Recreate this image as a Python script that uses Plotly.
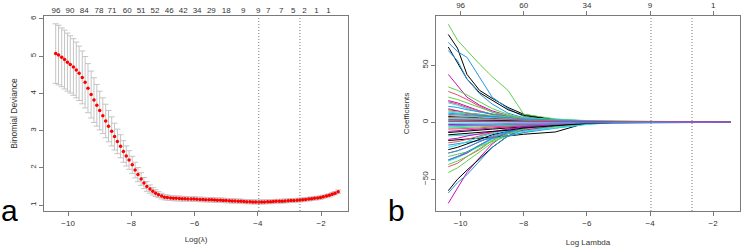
import plotly.graph_objects as go

# ---------------- Panel a: cross-validated binomial deviance ----------------
log_lambda = [-10.39, -10.30, -10.20, -10.11, -10.02, -9.93, -9.83, -9.74, -9.65, -9.55,
              -9.46, -9.37, -9.27, -9.18, -9.09, -9.00, -8.90, -8.81, -8.72, -8.62,
              -8.53, -8.44, -8.34, -8.25, -8.16, -8.07, -7.97, -7.88, -7.79, -7.69,
              -7.60, -7.51, -7.41, -7.32, -7.23, -7.14, -7.04, -6.95, -6.86, -6.76,
              -6.67, -6.58, -6.48, -6.39, -6.30, -6.21, -6.11, -6.02, -5.93, -5.83,
              -5.74, -5.65, -5.55, -5.46, -5.37, -5.28, -5.18, -5.09, -5.00, -4.90,
              -4.81, -4.72, -4.62, -4.53, -4.44, -4.35, -4.25, -4.16, -4.07, -3.97,
              -3.88, -3.79, -3.69, -3.60, -3.51, -3.42, -3.32, -3.23, -3.14, -3.04,
              -2.95, -2.86, -2.76, -2.67, -2.58, -2.49, -2.39, -2.30, -2.21, -2.11,
              -2.02, -1.93, -1.83, -1.74, -1.65, -1.56, -1.46]

cv_mean = [5.07, 5.03, 4.97, 4.91, 4.84, 4.78, 4.71, 4.63, 4.54, 4.43,
           4.30, 4.14, 3.97, 3.82, 3.68, 3.54, 3.40, 3.26, 3.12, 2.98,
           2.84, 2.71, 2.58, 2.44, 2.32, 2.21, 2.08, 1.94, 1.82, 1.70,
           1.59, 1.50, 1.43, 1.37, 1.32, 1.28, 1.24, 1.21, 1.20, 1.19,
           1.18, 1.18, 1.175, 1.17, 1.17, 1.165, 1.16, 1.16, 1.155, 1.15,
           1.15, 1.145, 1.14, 1.14, 1.135, 1.13, 1.13, 1.125, 1.12, 1.115,
           1.11, 1.11, 1.105, 1.10, 1.095, 1.09, 1.09, 1.085, 1.085, 1.08,
           1.085, 1.085, 1.09, 1.09, 1.095, 1.10, 1.10, 1.105, 1.11, 1.115,
           1.12, 1.125, 1.13, 1.135, 1.14, 1.15, 1.16, 1.17, 1.18, 1.19,
           1.20, 1.22, 1.24, 1.26, 1.29, 1.32, 1.36]

cv_se = [0.80, 0.80, 0.79, 0.79, 0.78, 0.77, 0.76, 0.75, 0.73, 0.71,
         0.69, 0.66, 0.63, 0.60, 0.56, 0.52, 0.48, 0.45, 0.42, 0.39,
         0.36, 0.33, 0.31, 0.29, 0.27, 0.25, 0.23, 0.21, 0.19, 0.17,
         0.15, 0.13, 0.11, 0.10, 0.09, 0.08, 0.075, 0.07, 0.07, 0.065,
         0.065, 0.065, 0.065, 0.065, 0.06, 0.06, 0.06, 0.06, 0.06, 0.06,
         0.06, 0.06, 0.06, 0.06, 0.06, 0.06, 0.06, 0.06, 0.058, 0.058,
         0.058, 0.057, 0.057, 0.057, 0.056, 0.056, 0.056, 0.055, 0.055, 0.055,
         0.055, 0.055, 0.054, 0.054, 0.054, 0.053, 0.053, 0.053, 0.052, 0.052,
         0.052, 0.051, 0.051, 0.050, 0.050, 0.050, 0.050, 0.049, 0.049, 0.048,
         0.048, 0.047, 0.047, 0.046, 0.046, 0.045, 0.045]

lambda_min_log = -3.97
lambda_1se_log = -2.67

top_a_pos = [-10.38, -9.94, -9.49, -9.02, -8.61, -8.13, -7.69, -7.25, -6.80, -6.36,
             -5.92, -5.47, -5.00, -4.46, -3.99, -3.67, -3.26, -2.88, -2.53, -2.15, -1.77]
top_a_labels = ["96", "90", "84", "78", "71", "60", "51", "52", "46", "42", "34",
                "29", "18", "9", "9", "7", "7", "5", "2", "1", "1"]

# ---------------- Panel b: coefficient paths ----------------
path_knots = [-10.39, -10.1, -9.8, -9.4, -9.0, -8.5, -8.0, -7.0, -6.0, -5.0, -4.0, -2.7, -1.46]

coef_paths = [
    [77, 65, 42, 28, 21, 13, 7, 2, 0.5, 0, 0, 0, 0],
    [27, 24, 20, 14, 9, 5, 3, 1.5, 0.5, 0, 0, 0, 0],
    [86, 72, 63, 51, 40, 28, 7, 3, 1, 0, 0, 0, 0],
    [70, 62, 57, 40, 22, 12, 5, 1.5, 0.5, 0, 0, 0, 0],
    [9, 8, 7, 6, 5, 4, 3, 1.5, 0.5, 0, 0, 0, 0],
    [42, 32, 22, 15, 10, 6, 3, 1.5, 0.5, 0, 0, 0, 0],
    [66, 52, 38, 26, 19, 11, 6, 2, 0.7, 0, 0, 0, 0],
    [-39, -36, -30, -24, -16, -9, -5, -2, -0.7, 0, 0, 0, 0],
    [31, 28, 24, 18, 12, 7, 3, 1.5, 0.5, 0, 0, 0, 0],
    [63, 54, 38, 25, 16, 8, 4, 1.5, 0.5, 0, 0, 0, 0],
    [-34, -31, -27, -21, -15, -10, -8, -3.5, -1, 0, 0, 0, 0],
    [-71, -58, -44, -31, -19, -9, -4, -1.5, -0.5, 0, 0, 0, 0],
    [-60, -50, -42, -32, -22, -12, -6, -2.5, -0.8, 0, 0, 0, 0],
    [12, 10, 8, 6, 5, 4, 2.5, 1.5, 0.6, 0, 0, 0, 0],
    [-44, -40, -34, -26, -18, -10, -6, -2.5, -0.8, 0, 0, 0, 0],
    [-62, -53, -46, -34, -22, -12, -6, -2.5, -0.8, 0, 0, 0, 0],
    [17, 15, 12, 9, 7, 5, 3, 1.5, 0.5, 0, 0, 0, 0],
    [-33, -30, -27, -20, -14, -10, -7, -3, -1, 0, 0, 0, 0],
    [-16, -15.5, -15, -14, -13, -12, -10.5, -8.5, -0.5, 0, 0, 0, 0],
    [-27, -25, -22, -17, -13, -9, -6, -2.5, -0.8, 0, 0, 0, 0],
    [-30, -28, -26, -21, -17, -12, -9, -4, -1.5, 0, 0, 0, 0],
    [-20, -19, -18, -16, -14, -12, -9, -5, -1.5, 0, 0, 0, 0],
    [-12, -11.5, -11, -10.5, -10, -9.5, -8, -5, -2, 0, 0, 0, 0],
    [19, 17, 14, 10, 7, 5, 3, 1.5, 0.5, 0, 0, 0, 0],
    [-24, -22, -19, -15, -11, -8, -5, -2.5, -0.8, 0, 0, 0, 0],
    [18, 16, 13, 10, 7, 5, 3, 2, 0.8, 0, 0, 0, 0],
    [22, 20, 17, 13, 9, 6, 4, 2.5, 1, 0, 0, 0, 0],
    [-27, -25, -22, -17, -12, -8, -5, -2.5, -0.8, 0, 0, 0, 0],
    [-22, -20, -17, -13, -10, -7, -4, -1.5, -0.5, 0, 0, 0, 0],
    [-8, -7.5, -7, -6, -5, -4, -3, -1.5, -0.5, 0, 0, 0, 0],
    [5, 5, 4.5, 4, 3.5, 3, 2, 1.5, 0.5, 0, 0, 0, 0],
    [-18, -17, -15, -12, -9, -6, -4, -1.5, -0.5, 0, 0, 0, 0],
    [-37, -34, -30, -23, -16, -10, -6, -2.5, -0.8, 0, 0, 0, 0],
    [14, 13, 11, 9, 7, 5, 3, 1.5, 0.5, 0, 0, 0, 0],
    [-4, -4, -3.5, -3, -3, -2.5, -2, -1.5, -0.5, 0, 0, 0, 0],
    [11, 10, 8, 7, 5, 4, 3, 2, 0.8, 0, 0, 0, 0],
    [-9, -8.5, -8, -7, -6, -5, -4, -2.5, -1, 0, 0, 0, 0],
    [7, 6.5, 6, 5, 4, 3.5, 2.5, 1.5, 0.5, 0, 0, 0, 0],
    [-5, -5, -4.5, -4, -3.5, -3, -2, -1.5, -0.5, 0, 0, 0, 0],
    [-33, -30, -26, -20, -14, -9, -5, -2, -0.6, 0, 0, 0, 0],
    [3, 3, 3, 2.5, 2.5, 2, 1.5, 1, 0.4, 0, 0, 0, 0],
    [-15, -14, -12, -10, -8, -6, -4, -2, -0.7, 0, 0, 0, 0],
    [2, 2, 2, 2, 1.5, 1.5, 1, 0.8, 0.3, 0, 0, 0, 0],
    [-6, -6, -5.5, -5, -4, -3.5, -2.5, -1.5, -0.5, 0, 0, 0, 0],
    [10, 9, 8, 7, 6, 5, 3.5, 2.5, 1.5, 1.2, 0.8, 0, 0],
    [-3, -3, -3, -2.5, -2.5, -2, -2, -1.5, -1, -0.8, -0.4, 0, 0],
    [6, 5.5, 5, 4.5, 4, 3.5, 3, 2, 1, 0.6, 0.3, 0, 0],
    [-2, -2, -2, -1.5, -1.5, -1, -1, -0.8, -0.6, -0.4, -0.2, 0, 0],
    [-11, -10.5, -10, -9, -8, -7, -5, -3, -1, 0, 0, 0, 0],
    [4, 4, 3.5, 3.5, 3, 2.5, 2, 1.5, 1, 0.7, 0.5, 0.2, 0],
    [1, 1, 1, 1, 1, 1, 1, 1, 0.9, 0.7, 0.5, 0, 0],
    [8, 7.5, 7, 6, 5, 4, 3, 2, 0.7, 0, 0, 0, 0],
    [-1, -1, -1, -1, -1, -0.8, -0.7, -0.6, -0.5, -0.3, -0.1, 0, 0],
    [0.5, 0.5, 0.5, 0.5, 0.5, 0.5, 0.5, 0.5, 0.5, 0.4, 0.3, 0.2, 0.15],
]

top_b_pos = [-10, -8, -6, -4, -2]
top_b_labels = ["96", "60", "34", "9", "1"]

# ---------------- styling ----------------
FONT = "Liberation Sans, Arial, sans-serif"
palette = ["#000000", "#DF536B", "#61D04F", "#2297E6", "#28E2E5", "#CD0BBC"]
BOX = "#7a7a7a"
TXT = "#333333"
W, H = 741, 247


def px_x(p):
    return p / W


def px_y(p):
    return 1 - p / H


fig = go.Figure()

fig.add_trace(go.Scatter(
    x=log_lambda, y=cv_mean, mode="markers",
    marker=dict(color="#FF0000", size=3.5, line=dict(width=0)),
    error_y=dict(type="data", array=cv_se, color="#C4C4C4", thickness=1, width=3),
    xaxis="x", yaxis="y", showlegend=False, hoverinfo="skip"))

for i, path in enumerate(coef_paths):
    fig.add_trace(go.Scatter(
        x=path_knots, y=path, mode="lines",
        line=dict(color=palette[i % len(palette)], width=1),
        xaxis="x2", yaxis="y2", showlegend=False, hoverinfo="skip"))

# invisible traces to activate top axes
fig.add_trace(go.Scatter(x=[log_lambda[0]], y=[cv_mean[0]], mode="markers",
                         marker=dict(opacity=0), xaxis="x3", yaxis="y",
                         showlegend=False, hoverinfo="skip"))
fig.add_trace(go.Scatter(x=[path_knots[0]], y=[0], mode="markers",
                         marker=dict(opacity=0), xaxis="x4", yaxis="y2",
                         showlegend=False, hoverinfo="skip"))

xr = [-10.76, -1.15]
ax_common = dict(showgrid=False, zeroline=False, showline=True, linecolor=BOX,
                 linewidth=1, ticks="outside", ticklen=4, tickcolor=BOX, tickwidth=1,
                 automargin=False,
                 tickfont=dict(family=FONT, size=8, color=TXT))

dom_a = [px_x(44), px_x(348)]
dom_b = [px_x(436), px_x(740)]
dom_y = [px_y(211), px_y(16)]

fig.update_layout(
    width=W, height=H, margin=dict(l=0, r=0, t=0, b=0, pad=0, autoexpand=False),
    paper_bgcolor="white", plot_bgcolor="white",
    font=dict(family=FONT, color=TXT),
    xaxis=dict(domain=dom_a, range=xr, tickvals=[-10, -8, -6, -4, -2], mirror=True,
               anchor="y",
               title=dict(text="Log(λ)", font=dict(family=FONT, size=8, color=TXT), standoff=9),
               **ax_common),
    yaxis=dict(domain=dom_y, range=[0.84, 6.08], tickvals=[1, 2, 3, 4, 5, 6], tickangle=-90,
               mirror=True, anchor="x",
               title=dict(text="Binomial Deviance", font=dict(family=FONT, size=8.5, color=TXT), standoff=9),
               **ax_common),
    xaxis3=dict(overlaying="x", side="top", anchor="y", range=xr, tickmode="array",
                tickvals=top_a_pos, ticktext=top_a_labels, showgrid=False, zeroline=False,
                showline=False, ticks="", ticklen=0, automargin=False,
                tickfont=dict(family=FONT, size=8, color=TXT)),
    xaxis2=dict(domain=dom_b, range=[-10.78, -1.15], tickvals=[-10, -8, -6, -4, -2],
                mirror=True, anchor="y2",
                title=dict(text="Log Lambda", font=dict(family=FONT, size=8, color=TXT), standoff=12),
                **ax_common),
    yaxis2=dict(domain=dom_y, range=[-77.8, 93.2], tickvals=[-50, 0, 50], tickangle=-90,
                mirror=True, anchor="x2",
                title=dict(text="Coefficients", font=dict(family=FONT, size=8, color=TXT), standoff=9),
                **ax_common),
    xaxis4=dict(overlaying="x2", side="top", anchor="y2", range=[-10.78, -1.15],
                tickmode="array", tickvals=top_b_pos, ticktext=top_b_labels,
                showgrid=False, zeroline=False, showline=False, ticks="outside",
                ticklen=4, tickcolor=BOX, automargin=False,
                tickfont=dict(family=FONT, size=8, color=TXT)),
)

for xv in [lambda_min_log, lambda_1se_log]:
    for xref, yref in [("x", "y"), ("x2", "y2")]:
        fig.add_shape(type="line", xref=xref, yref=yref + " domain", x0=xv, x1=xv, y0=0, y1=1,
                      line=dict(color="#777777", width=1, dash="1px,2px"))

fig.add_annotation(text="a", x=px_x(-1), y=px_y(210), xref="paper", yref="paper",
                   xanchor="left", yanchor="middle", showarrow=False,
                   font=dict(family=FONT, size=30, color="#000000"))
fig.add_annotation(text="b", x=px_x(386), y=px_y(210), xref="paper", yref="paper",
                   xanchor="left", yanchor="middle", showarrow=False,
                   font=dict(family=FONT, size=30, color="#000000"))

fig.write_html("out.html", config={"displayModeBar": False},
               post_script="document.body.style.margin='0';document.body.style.overflow='hidden';")
